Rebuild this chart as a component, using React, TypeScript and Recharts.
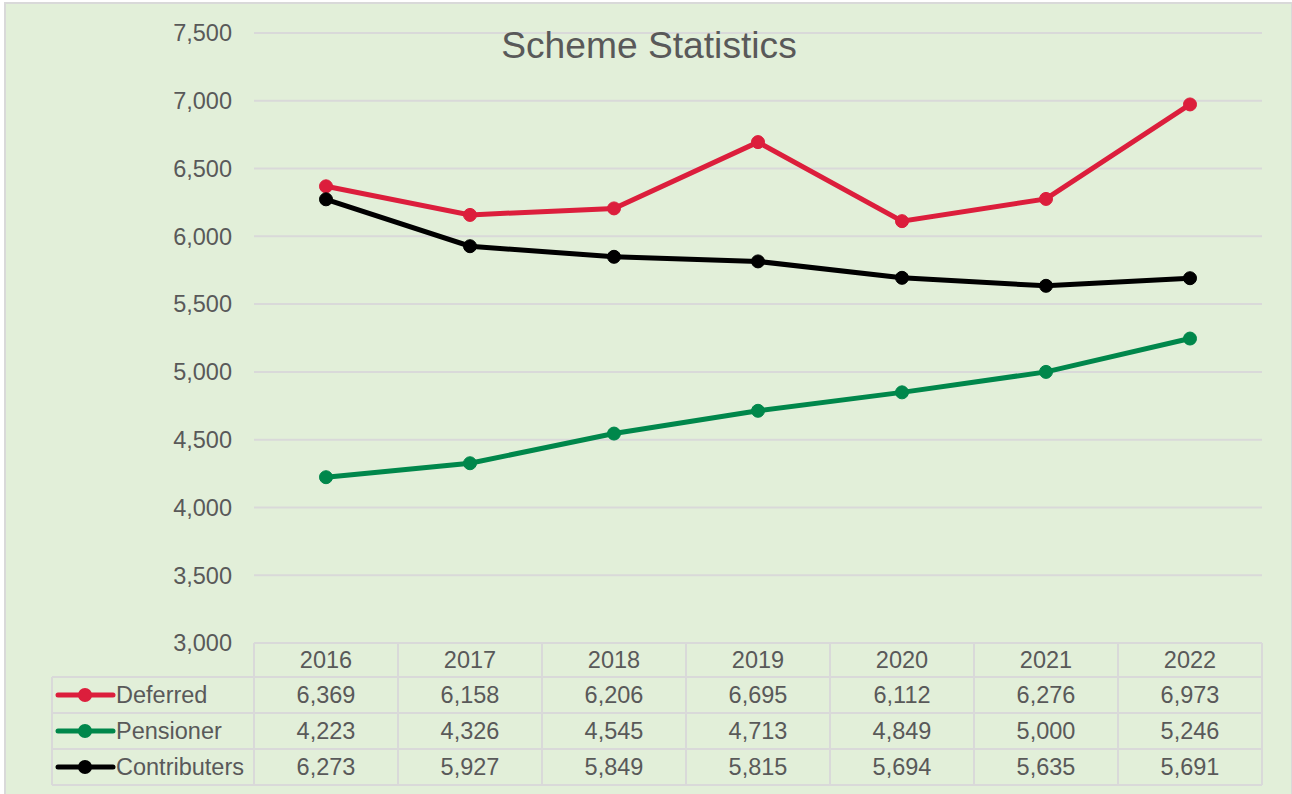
import { LineChart, Line, XAxis, YAxis, CartesianGrid } from 'recharts';

const years = ['2016', '2017', '2018', '2019', '2020', '2021', '2022'];
const deferred = [6369, 6158, 6206, 6695, 6112, 6276, 6973];
const pensioner = [4223, 4326, 4545, 4713, 4849, 5000, 5246];
const contributers = [6273, 5927, 5849, 5815, 5694, 5635, 5691];
const yTicks = [3000, 3500, 4000, 4500, 5000, 5500, 6000, 6500, 7000, 7500];

const series = [
  { name: 'Deferred', values: deferred, color: '#DC1E3C' },
  { name: 'Pensioner', values: pensioner, color: '#00874B' },
  { name: 'Contributers', values: contributers, color: '#000000' },
];

const chartData = years.map((year, i) => {
  const row: Record<string, string | number> = { year };
  series.forEach(s => {
    row[s.name] = s.values[i];
  });
  return row;
});

const W = 1292;
const H = 794;
const PLOT_LEFT = 254;
const PLOT_RIGHT = 1262;
const PLOT_TOP = 33;
const PLOT_BOTTOM = 643;
const COL_W = (PLOT_RIGHT - PLOT_LEFT) / years.length;
const LEGEND_LEFT = 52;
const HEADER_H = 34;
const ROW_H = 36;

const FONT = '"Liberation Sans", Arial, sans-serif';
const TEXT = '#595959';
const GRID = '#d9d9d9';
const FS = 23.5;

const fmt = (v: number) => v.toLocaleString('en-US');

function DataTable() {
  const rowTop = (r: number) => PLOT_BOTTOM + HEADER_H + r * ROW_H;
  const tableBottom = rowTop(series.length);
  return (
    <svg width={W} height={H} style={{ position: 'absolute', left: 0, top: 0 }}>
      <text x={649} y={58} textAnchor="middle" fontFamily={FONT} fontSize={37.2} fill={TEXT}>
        Scheme Statistics
      </text>

      {/* table borders */}
      <line x1={PLOT_LEFT} x2={PLOT_RIGHT} y1={PLOT_BOTTOM} y2={PLOT_BOTTOM} stroke={GRID} strokeWidth={2} />
      {years.map((_, i) => (
        <line
          key={'v' + i}
          x1={PLOT_LEFT + i * COL_W}
          x2={PLOT_LEFT + i * COL_W}
          y1={PLOT_BOTTOM}
          y2={tableBottom}
          stroke={GRID}
          strokeWidth={2}
        />
      ))}
      <line x1={PLOT_RIGHT} x2={PLOT_RIGHT} y1={PLOT_BOTTOM} y2={tableBottom} stroke={GRID} strokeWidth={2} />
      <line x1={LEGEND_LEFT} x2={LEGEND_LEFT} y1={rowTop(0)} y2={tableBottom} stroke={GRID} strokeWidth={2} />
      {series.map((_, r) => (
        <line
          key={'h' + r}
          x1={LEGEND_LEFT}
          x2={PLOT_RIGHT}
          y1={rowTop(r)}
          y2={rowTop(r)}
          stroke={GRID}
          strokeWidth={2}
        />
      ))}
      <line x1={LEGEND_LEFT} x2={PLOT_RIGHT} y1={tableBottom} y2={tableBottom} stroke={GRID} strokeWidth={2} />

      {years.map((y, i) => (
        <text
          key={'y' + y}
          x={PLOT_LEFT + (i + 0.5) * COL_W}
          y={PLOT_BOTTOM + HEADER_H / 2}
          textAnchor="middle"
          dominantBaseline="central"
          fontFamily={FONT}
          fontSize={FS}
          fill={TEXT}
        >
          {y}
        </text>
      ))}

      {series.map((s, r) => {
        const cy = rowTop(r) + ROW_H / 2;
        return (
          <g key={s.name}>
            <line x1={58} x2={113} y1={cy} y2={cy} stroke={s.color} strokeWidth={5} strokeLinecap="round" />
            <circle cx={85} cy={cy} r={7} fill={s.color} />
            <text x={116} y={cy} dominantBaseline="central" fontFamily={FONT} fontSize={FS} fill={TEXT}>
              {s.name}
            </text>
            {s.values.map((v, i) => (
              <text
                key={i}
                x={PLOT_LEFT + (i + 0.5) * COL_W}
                y={cy}
                textAnchor="middle"
                dominantBaseline="central"
                fontFamily={FONT}
                fontSize={FS}
                fill={TEXT}
              >
                {fmt(v)}
              </text>
            ))}
          </g>
        );
      })}
    </svg>
  );
}

export default function App() {
  return (
    <div style={{ position: 'absolute', left: 0, top: 0, width: W, height: H, overflow: 'hidden', background: '#fff' }}>
      <div
        style={{
          position: 'absolute',
          left: 4,
          top: 2,
          width: 1285,
          height: 800,
          background: '#E2EFD9',
          border: '2px solid #d9d9d9',
        }}
      />
      <div style={{ position: 'absolute', left: 0, top: 0 }}>
        <LineChart
          width={W}
          height={H}
          data={chartData}
          margin={{ top: PLOT_TOP, right: W - PLOT_RIGHT, bottom: H - PLOT_BOTTOM, left: 54 }}
        >
          <CartesianGrid vertical={false} stroke={GRID} strokeWidth={2} />
          <XAxis dataKey="year" hide padding={{ left: COL_W / 2, right: COL_W / 2 }} />
          <YAxis
            width={PLOT_LEFT - 54}
            domain={[3000, 7500]}
            ticks={yTicks}
            tickFormatter={fmt}
            axisLine={false}
            tickLine={false}
            tickSize={0}
            tickMargin={22}
            tick={{ fill: TEXT, fontSize: FS, fontFamily: FONT }}
          />
          {series.map(s => (
            <Line
              key={s.name}
              dataKey={s.name}
              stroke={s.color}
              strokeWidth={5}
              dot={{ r: 6.5, fill: s.color, stroke: s.color, strokeWidth: 1 }}
              isAnimationActive={false}
            />
          ))}
        </LineChart>
      </div>
      <DataTable />
    </div>
  );
}
